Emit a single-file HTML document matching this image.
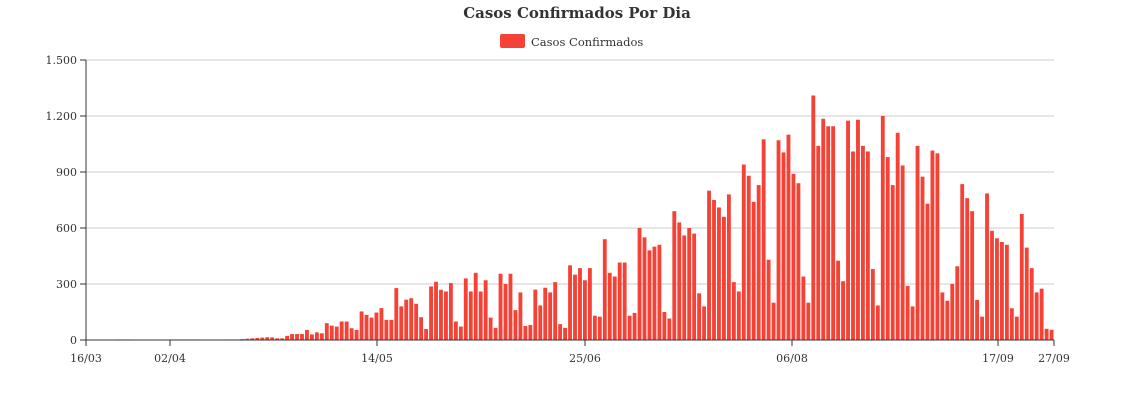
<!DOCTYPE html>
<html><head><meta charset="utf-8"><style>
body{margin:0;background:#fff;width:1140px;height:400px;overflow:hidden}
svg text{font-family:"DejaVu Serif","Liberation Serif",serif;fill:#333}
</style></head><body>
<svg id="c" width="1140" height="400" xmlns="http://www.w3.org/2000/svg">
<text x="577" y="18" text-anchor="middle" font-size="15" font-weight="bold">Casos Confirmados Por Dia</text>
<rect x="500" y="34" width="25" height="14" rx="2" fill="#f44336"/>
<text x="531" y="46" font-size="11.5">Casos Confirmados</text>
<g id="grid"></g><g id="bars"></g>
<line x1="86" y1="60" x2="86" y2="340" stroke="#333"/>
<line x1="86" y1="340" x2="1054" y2="340" stroke="#333"/>
</svg>
<script>
var ns="http://www.w3.org/2000/svg",svg=document.getElementById('c');
function el(t,a,p,txt){var e=document.createElementNS(ns,t);for(var k in a)e.setAttribute(k,a[k]);if(txt!=null)e.textContent=txt;(p||svg).appendChild(e);return e;}
var g=document.getElementById('grid');
var ylab=["0","300","600","900","1.200","1.500"];
for(var i=0;i<6;i++){var y=340-i*56;
 if(i>0)el('line',{x1:86,x2:1054,y1:y,y2:y,stroke:'#ccc'},g);
 el('line',{x1:80,x2:86,y1:y,y2:y,stroke:'#333'},g);
 el('text',{x:77,y:y+4,'text-anchor':'end','font-size':11},g,ylab[i]);}
var early=[];for(var i=0;i<37;i++)early.push(0);
[6,7,8,17,18,19,20,21,22,28,29,30,31,32,33,34,35,36].forEach(function(i){early[i]=3+(i>30?(i-30)*2:0);});
var d=early.concat([14,9,9,22,32,32,32,54,30,41,36,90,77,72,99,99,63,54,153,135,120,147,171,108,108,278,180,216,224,194,122,59,287,312,269,260,305,99,72,
330,260,360,260,320,120,65,355,300,355,160,255,75,80,270,185,280,255,310,85,65,400,350,385,320,385,130,125,540,360,340,415,415,130,145,600,550,480,500,510,150,115,690,630,560,600,570,250,180,800,750,710,660,780,310,260,940,880,740,830,1075,430,200,1070,1005,1100,890,840,340,200,1310,1040,1185,1145,1145,425,315,1175,1010,1180,1040,1010,380,185,1200,980,830,1110,935,290,180,1040,875,730,1015,1000,255,210,300,395,835,760,690,215,125,785,585,545,525,510,170,125,675,495,385,255,275,60,55]);
var b=document.getElementById('bars'),n=d.length,step=968/n;
for(var i=0;i<n;i++){if(!d[i])continue;var h=d[i]*280/1500;
 el('rect',{x:(86+i*step+0.6).toFixed(2),y:(340-h).toFixed(2),width:(step-1.1).toFixed(2),height:h.toFixed(2),fill:'#f44336'},b);}
var tk=[[86,"16/03"],[170,"02/04"],[377,"14/05"],[585,"25/06"],[792,"06/08"],[998,"17/09"],[1054,"27/09"]];
tk.forEach(function(t){el('line',{x1:t[0],x2:t[0],y1:340,y2:346,stroke:'#333'});
 el('text',{x:t[0],y:362,'text-anchor':'middle','font-size':11},null,t[1]);});
</script>
</body></html>
